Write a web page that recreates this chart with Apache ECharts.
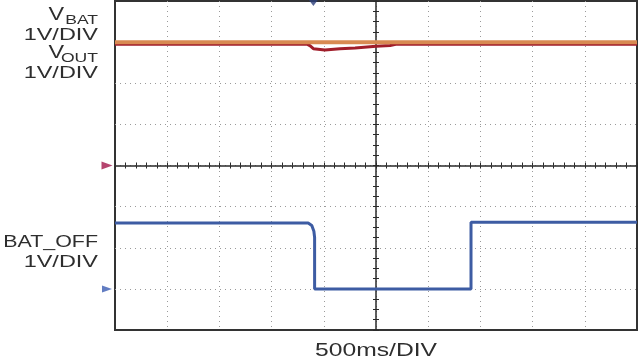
<!DOCTYPE html>
<html>
<head>
<meta charset="utf-8">
<script src="https://cdn.jsdelivr.net/npm/echarts@6.0.0/dist/echarts.min.js"></script>
<style>
  html, body { margin: 0; padding: 0; background: #fff; }
  #chart { width: 640px; height: 360px; }
</style>
</head>
<body>
<div id="chart"></div>
<script>
// time in ms relative to screen centre, 500ms/DIV, 10 divisions
const timeTicks = [-2500, 2500, 500]
// volts, 1V/DIV, 8 divisions
const voltTicks = [-4, 4, 1]

// VBAT (orange) - flat
const vbatT = [-2500, 2500]
const vbatV = [3.0, 3.0]

// VOUT (dark red) - small dip when BAT_OFF goes low
const voutT = [-2500, -660, -630, -600, -585, -490, -345, -200, 0, 135, 190, 2500]
const voutV = [2.95, 2.95, 2.91, 2.84, 2.80, 2.81, 2.84, 2.86, 2.90, 2.92, 2.95, 2.95]

// BAT_OFF (blue)
const batOffT = [-2500, -650, -615, -595, -588, -588, 910, 910, 2500]
const batOffV = [-1.4, -1.4, -1.46, -1.6, -1.75, -3.0, -3.0, -1.38, -1.38]

// channel ground markers and trigger marker
const gndRed = [-2500, 0]
const gndBlue = [-2500, -3]
const trigPos = [-600, 4]

function zip(t, v) {
  return t.map(function (x, i) { return [x, v[i]] })
}

function label(text, x, y, size, sx) {
  return {
    type: 'text',
    x: x,
    y: y,
    scaleX: sx,
    style: {
      text: text,
      font: size + 'px "Liberation Sans", Arial, sans-serif',
      fill: '#2e2e2e',
      align: 'right',
      verticalAlign: 'middle'
    }
  }
}

const tickColor = '#2a2a2a'
const dotted = { color: '#9a9a9a', type: [1, 4], width: 1 }

const chart = echarts.init(document.getElementById('chart'), null, { renderer: 'canvas' })

const option = {
  animation: false,
  grid: {
    left: 115,
    right: 3,
    top: 1,
    bottom: 30,
    show: true,
    borderColor: '#333',
    borderWidth: 2,
    backgroundColor: '#fff'
  },
  xAxis: [
    {
      type: 'value',
      min: timeTicks[0], max: timeTicks[1], interval: timeTicks[2],
      axisLine: { show: true, onZero: true, lineStyle: { color: tickColor, width: 1.5 } },
      axisTick: { show: true, length: 3, lineStyle: { color: tickColor } },
      minorTick: { show: true, splitNumber: 5, length: 3, lineStyle: { color: tickColor } },
      axisLabel: { show: false },
      splitLine: { show: true, showMinLine: false, showMaxLine: false, lineStyle: dotted }
    },
    {
      type: 'value', position: 'top',
      min: timeTicks[0], max: timeTicks[1], interval: timeTicks[2],
      axisLine: { show: false, onZero: true },
      axisTick: { show: true, length: 3, lineStyle: { color: tickColor } },
      minorTick: { show: true, splitNumber: 5, length: 3, lineStyle: { color: tickColor } },
      axisLabel: { show: false },
      splitLine: { show: false }
    }
  ],
  yAxis: [
    {
      type: 'value',
      min: voltTicks[0], max: voltTicks[1], interval: voltTicks[2],
      axisLine: { show: true, onZero: true, lineStyle: { color: tickColor, width: 1.5 } },
      axisTick: { show: true, length: 3, lineStyle: { color: tickColor } },
      minorTick: { show: true, splitNumber: 4, length: 3, lineStyle: { color: tickColor } },
      axisLabel: { show: false },
      splitLine: { show: true, showMinLine: false, showMaxLine: false, lineStyle: dotted }
    },
    {
      type: 'value', position: 'right',
      min: voltTicks[0], max: voltTicks[1], interval: voltTicks[2],
      axisLine: { show: false, onZero: true },
      axisTick: { show: true, length: 3, lineStyle: { color: tickColor } },
      minorTick: { show: true, splitNumber: 4, length: 3, lineStyle: { color: tickColor } },
      axisLabel: { show: false },
      splitLine: { show: false }
    }
  ],
  series: [
    {
      name: 'BAT_OFF',
      type: 'line',
      data: zip(batOffT, batOffV),
      showSymbol: false,
      lineStyle: { color: '#3d5ca3', width: 3 },
      z: 3
    },
    {
      name: 'VOUT',
      type: 'line',
      data: zip(voutT, voutV),
      showSymbol: false,
      lineStyle: { color: '#a11d2a', width: 3 },
      z: 3
    },
    {
      name: 'VBAT',
      type: 'line',
      data: zip(vbatT, vbatV),
      showSymbol: false,
      lineStyle: { color: '#d88a52', width: 4 },
      z: 4
    },
    {
      name: 'markers',
      type: 'scatter',
      clip: false,
      silent: true,
      z: 6,
      data: [
        { value: gndRed, symbol: 'triangle', symbolSize: [8, 11], symbolRotate: -90, symbolOffset: [-8, 0], itemStyle: { color: '#a3154a' } },
        { value: gndBlue, symbol: 'triangle', symbolSize: [7, 10], symbolRotate: -90, symbolOffset: [-8, 0], itemStyle: { color: '#3b5db3' } },
        { value: trigPos, symbol: 'triangle', symbolSize: [9, 6], symbolRotate: 180, symbolOffset: [0, 2], itemStyle: { color: '#2c3f7a' } }
      ]
    }
  ],
  graphic: [
    label('V', 64, 15, 18, 1.3),
    label('BAT', 98, 20, 13, 1.35),
    label('1V/DIV', 98, 35, 17, 1.38),
    label('V', 64, 53, 18, 1.3),
    label('OUT', 98, 58, 13, 1.35),
    label('1V/DIV', 98, 73, 17, 1.38),
    label('BAT_OFF', 98, 242, 17, 1.26),
    label('1V/DIV', 98, 262, 17, 1.38),
    {
      type: 'text',
      x: 376,
      y: 351,
      scaleX: 1.37,
      style: {
        text: '500ms/DIV',
        font: '18px "Liberation Sans", Arial, sans-serif',
        fill: '#2e2e2e',
        align: 'center',
        verticalAlign: 'middle'
      }
    }
  ]
}

chart.setOption(option)
</script>
</body>
</html>
